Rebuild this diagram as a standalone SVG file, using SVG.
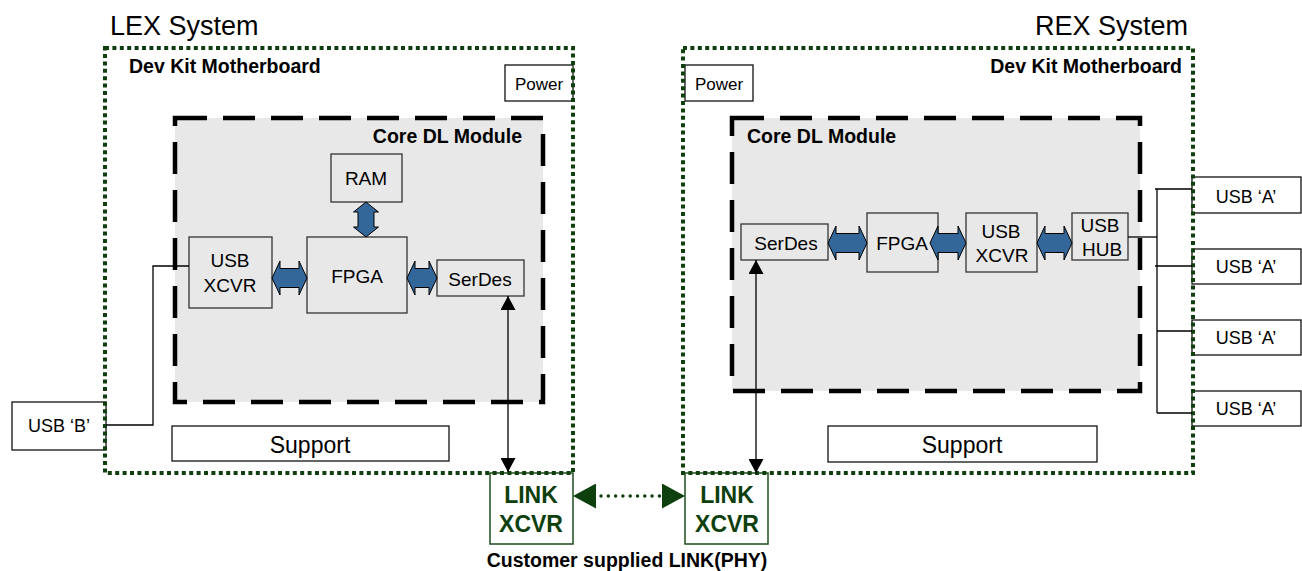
<svg xmlns="http://www.w3.org/2000/svg" width="1302" height="571" viewBox="0 0 1302 571">
<style>
text{font-family:"Liberation Sans",Arial,sans-serif;fill:#000}
.t{font-size:19px;text-anchor:middle}
.b{font-weight:bold;font-size:19.5px}
.title{font-size:27px}
.box{fill:#fff;stroke:#111;stroke-width:1.3}
.ibox{fill:#e8e8e8;stroke:#333;stroke-width:1.3}
.core{fill:#e8e8e8;stroke:#000;stroke-width:4.5;stroke-dasharray:32 16}
.mb{fill:none;stroke:#0f3f0f;stroke-width:4;stroke-dasharray:4 3.4}
.link{fill:#fff;stroke:#1e4d1e;stroke-width:1.5}
.lt{font-weight:bold;font-size:23px;text-anchor:middle;fill:#0d400d}
.blue{fill:#336699;stroke:#000;stroke-width:1}
.wire{fill:none;stroke:#000;stroke-width:1.3}
</style>
<defs>
<marker id="ah" viewBox="0 0 14 15" refX="14" refY="7.5" markerWidth="14" markerHeight="15" markerUnits="userSpaceOnUse" orient="auto-start-reverse">
<path d="M0,0 L14,7.5 L0,15 Z" fill="#000"/>
</marker>
<marker id="gh" viewBox="0 0 23 25" refX="23" refY="12.5" markerWidth="23" markerHeight="25" markerUnits="userSpaceOnUse" orient="auto-start-reverse">
<path d="M0,0 L23,12.5 L0,25 Z" fill="#0d400d"/>
</marker>
</defs>

<text class="title" x="110" y="35">LEX System</text>
<text class="title" x="1188" y="35" text-anchor="end">REX System</text>

<!-- LEX -->
<g id="lex-core">
<rect class="core" x="175" y="118" width="368" height="284"/>
<text class="b" x="522" y="143" text-anchor="end">Core DL Module</text>
</g>
<text class="b" x="129" y="73">Dev Kit Motherboard</text>
<g id="lex-power"><rect class="box" x="505" y="65" width="68" height="36"/><text class="t" x="539" y="90" style="font-size:17px">Power</text></g>
<g id="lex-ram"><rect class="ibox" x="331" y="154" width="71" height="48"/><text class="t" x="366" y="185">RAM</text></g>
<g id="lex-fpga"><rect class="ibox" x="307" y="237" width="100" height="76"/><text class="t" x="357" y="283">FPGA</text></g>
<g id="lex-usbxcvr"><rect class="ibox" x="189" y="237" width="83" height="71"/><text class="t" x="230" y="267">USB</text><text class="t" x="230" y="292">XCVR</text></g>
<g id="lex-serdes"><rect class="ibox" x="437" y="260" width="87" height="36"/><text class="t" x="480" y="286">SerDes</text></g>
<g id="lex-support"><rect class="box" x="172" y="426" width="277" height="35"/><text class="t" x="310" y="453" style="font-size:23px">Support</text></g>
<g id="lex-usbb"><rect class="box" x="12" y="402" width="94" height="48"/><text class="t" x="59" y="432" style="font-size:18px">USB ‘B’</text></g>
<g id="lex-link"><rect class="link" x="490" y="473" width="83" height="71"/><text class="lt" x="531" y="503">LINK</text><text class="lt" x="531" y="532">XCVR</text></g>

<!-- REX -->
<g id="rex-core">
<rect class="core" x="732" y="118" width="408" height="273"/>
<text class="b" x="747" y="143">Core DL Module</text>
</g>
<text class="b" x="1182" y="73" text-anchor="end">Dev Kit Motherboard</text>
<g id="rex-power"><rect class="box" x="685" y="65" width="68" height="36"/><text class="t" x="719" y="90" style="font-size:17px">Power</text></g>
<g id="rex-serdes"><rect class="ibox" x="741" y="224" width="87" height="36"/><text class="t" x="786" y="250">SerDes</text></g>
<g id="rex-fpga"><rect class="ibox" x="867" y="213" width="71" height="59"/><text class="t" x="902" y="250">FPGA</text></g>
<g id="rex-usbxcvr"><rect class="ibox" x="966" y="213" width="71" height="59"/><text class="t" x="1001" y="238">USB</text><text class="t" x="1002" y="262">XCVR</text></g>
<g id="rex-usbhub"><rect class="ibox" x="1072" y="213" width="56" height="47"/><text class="t" x="1100" y="232">USB</text><text class="t" x="1102" y="256">HUB</text></g>
<g id="rex-support"><rect class="box" x="828" y="426" width="269" height="36"/><text class="t" x="962" y="453" style="font-size:23px">Support</text></g>
<g id="rex-usba1"><rect class="box" x="1192" y="177" width="109" height="36"/><text class="t" x="1246" y="203" style="font-size:18px">USB ‘A’</text></g>
<g id="rex-usba2"><rect class="box" x="1192" y="249" width="109" height="35"/><text class="t" x="1246" y="273" style="font-size:18px">USB ‘A’</text></g>
<g id="rex-usba3"><rect class="box" x="1192" y="320" width="109" height="35"/><text class="t" x="1246" y="344" style="font-size:18px">USB ‘A’</text></g>
<g id="rex-usba4"><rect class="box" x="1192" y="391" width="109" height="35"/><text class="t" x="1246" y="415" style="font-size:18px">USB ‘A’</text></g>
<g id="rex-link"><rect class="link" x="685" y="473" width="83" height="71"/><text class="lt" x="727" y="503">LINK</text><text class="lt" x="727" y="532">XCVR</text></g>

<!-- motherboards -->
<g id="lex-motherboard"><rect class="mb" x="105" y="48" width="468" height="425"/></g>
<g id="rex-motherboard"><rect class="mb" x="683" y="48" width="510" height="425"/></g>

<g id="connectors">
<polygon class="blue" points="366,202 378.5,212 374,212 374,227 378.5,227 366,237 353.5,227 358,227 358,212 353.5,212"/>
<polygon class="blue" points="272,278 280,261 280,268.5 299,268.5 299,261 307,278 299,295 299,287.5 280,287.5 280,295"/>
<polygon class="blue" points="407,278 415,261 415,268.5 429,268.5 429,261 437,278 429,295 429,287.5 415,287.5 415,295"/>
<polygon class="blue" points="828,243 836,226 836,233.5 859,233.5 859,226 867,243 859,260 859,252.5 836,252.5 836,260"/>
<polygon class="blue" points="930,243 938,226 938,233.5 958,233.5 958,226 966,243 958,260 958,252.5 938,252.5 938,260"/>
<polygon class="blue" points="1037,243 1045,226 1045,233.5 1064,233.5 1064,226 1072,243 1064,260 1064,252.5 1045,252.5 1045,260"/>
<polyline class="wire" points="106,425 153,425 153,266 189,266"/>
<polyline class="wire" points="1128,237 1157,237"/>
<polyline class="wire" points="1157,189 1157,413"/>
<polyline class="wire" points="1155,189 1192,189"/>
<polyline class="wire" points="1155,266 1192,266"/>
<polyline class="wire" points="1157,331 1192,331"/>
<polyline class="wire" points="1157,413 1192,413"/>
<line x1="508" y1="296" x2="508" y2="472" stroke="#000" stroke-width="1.3" marker-start="url(#ah)" marker-end="url(#ah)"/>
<line x1="756" y1="260" x2="756" y2="473" stroke="#000" stroke-width="1.3" marker-start="url(#ah)" marker-end="url(#ah)"/>
<path d="M573,496 L685,496" stroke="none" fill="none" marker-start="url(#gh)" marker-end="url(#gh)"/>
<line x1="601" y1="496" x2="660" y2="496" stroke="#0d400d" stroke-width="3.5" stroke-linecap="round" stroke-dasharray="0 7.3"/>
</g>

<text class="b" x="627" y="567" text-anchor="middle">Customer supplied LINK(PHY)</text>
</svg>
